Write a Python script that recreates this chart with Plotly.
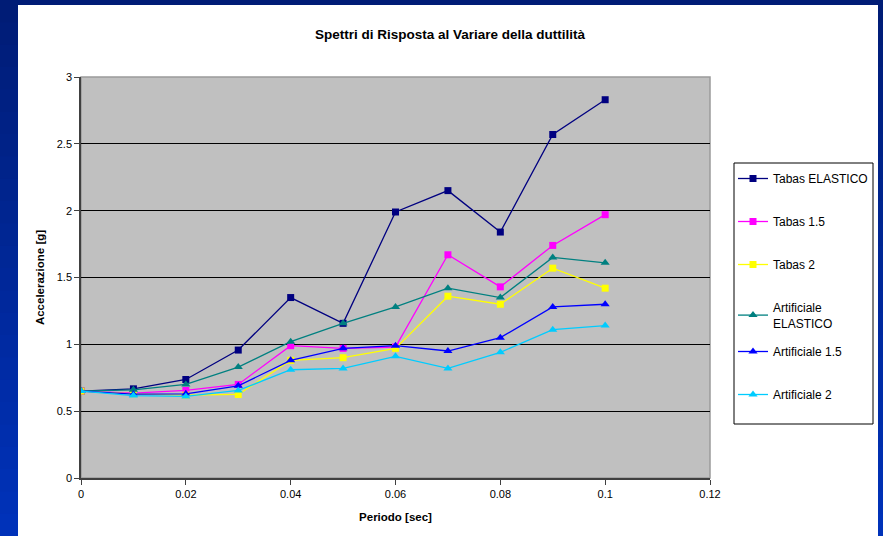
import plotly.graph_objects as go

periodo = [0, 0.01, 0.02, 0.03, 0.04, 0.05, 0.06, 0.07, 0.08, 0.09, 0.1]

tabas_elastico = [0.65, 0.667, 0.737, 0.957, 1.35, 1.157, 1.99, 2.15, 1.84, 2.57, 2.83]
tabas_15 = [0.65, 0.635, 0.655, 0.70, 0.99, 0.97, 0.98, 1.67, 1.43, 1.74, 1.97]
tabas_2 = [0.65, 0.63, 0.62, 0.625, 0.88, 0.90, 0.97, 1.36, 1.30, 1.57, 1.42]
art_elastico = [0.65, 0.66, 0.70, 0.83, 1.02, 1.157, 1.28, 1.42, 1.35, 1.65, 1.61]
art_15 = [0.65, 0.627, 0.63, 0.69, 0.88, 0.97, 0.99, 0.95, 1.05, 1.28, 1.30]
art_2 = [0.65, 0.617, 0.61, 0.655, 0.81, 0.82, 0.91, 0.82, 0.94, 1.11, 1.14]

series_names = ["Tabas ELASTICO", "Tabas 1.5", "Tabas 2",
                "Artificiale<br>ELASTICO", "Artificiale 1.5", "Artificiale 2"]
series_values = [tabas_elastico, tabas_15, tabas_2, art_elastico, art_15, art_2]
series_colors = ["#000080", "#FF00FF", "#FFFF00", "#008080", "#0000FF", "#00CCFF"]
series_symbols = ["square", "square", "square", "triangle-up", "triangle-up", "triangle-up"]
series_legend = ["legend", "legend", "legend", "legend", "legend2", "legend2"]

W, H = 883, 536
L, R, T, B = 81, 710, 77, 478  # plot area pixel box

def px(x):
    return (x - L) / (R - L)

def py(y):
    return (B - y) / (B - T)

fig = go.Figure()
for i, (name, vals, col, sym, lg) in enumerate(zip(series_names, series_values, series_colors,
                                                   series_symbols, series_legend)):
    fig.add_trace(go.Scatter(
        x=periodo, y=vals, name=name, mode="lines+markers",
        legendgroup=f"g{i}", legend=lg,
        line=dict(color=col, width=1.3),
        marker=dict(color=col, symbol=sym, size=7 if sym == "square" else 8),
    ))

shapes = []
# blue slide background: gradient bands on the side strips
n = 24
c0 = (0, 28, 118)
c1 = (0, 50, 185)
for k in range(n):
    t = k / (n - 1)
    col = "rgb(%d,%d,%d)" % tuple(int(round(a + (b - a) * t)) for a, b in zip(c0, c1))
    y_top = k * H / n
    y_bot = (k + 1) * H / n + 1
    shapes.append(dict(type="rect", xref="paper", yref="paper",
                       x0=px(-5), x1=px(18), y0=py(y_bot), y1=py(y_top),
                       fillcolor=col, line=dict(width=0), layer="below"))
    shapes.append(dict(type="rect", xref="paper", yref="paper",
                       x0=px(878), x1=px(890), y0=py(y_bot), y1=py(y_top),
                       fillcolor=col, line=dict(width=0), layer="below"))
shapes.append(dict(type="rect", xref="paper", yref="paper",
                   x0=px(-5), x1=px(890), y0=py(5), y1=py(-5),
                   fillcolor="rgb(0,28,118)", line=dict(width=0), layer="below"))
# plot area frame (gray top/right)
shapes.append(dict(type="rect", xref="paper", yref="paper", x0=0, x1=1, y0=0, y1=1,
                   line=dict(color="#9A9A9A", width=1.5), fillcolor="rgba(0,0,0,0)", layer="below"))
# legend box
shapes.append(dict(type="rect", xref="paper", yref="paper",
                   x0=px(734), x1=px(873), y0=py(424), y1=py(163),
                   line=dict(color="black", width=1), fillcolor="white", layer="below"))

legend_common = dict(xanchor="left", yanchor="top", bgcolor="rgba(0,0,0,0)",
                     borderwidth=0, font=dict(size=12), tracegroupgap=24, itemwidth=30)

fig.update_layout(
    width=W, height=H,
    margin=dict(l=L, r=W - R, t=T, b=H - B, autoexpand=False),
    paper_bgcolor="white",
    plot_bgcolor="#C0C0C0",
    font=dict(family="Liberation Sans, Arial, sans-serif", color="black", size=11),
    title=dict(text="<b>Spettri di Risposta al Variare della duttilità</b>",
               x=px(450), xref="paper", xanchor="center",
               y=1 - 34 / H, yanchor="middle", font=dict(size=13.5)),
    shapes=shapes,
    showlegend=True,
    legend=dict(x=px(733), y=py(164), **legend_common),
    legend2=dict(x=px(733), y=py(337), **legend_common),
)
fig.update_xaxes(range=[0, 0.12], dtick=0.02, tick0=0, showgrid=False, zeroline=False,
                 showline=True, linecolor="#404040", linewidth=1.5,
                 ticks="outside", ticklen=5, tickcolor="#404040",
                 tickfont=dict(size=11),
                 title=dict(text="<b>Periodo [sec]</b>", font=dict(size=11.5), standoff=14))
fig.update_yaxes(range=[0, 3], dtick=0.5, tick0=0, showgrid=True, gridcolor="black", gridwidth=1,
                 zeroline=False, showline=True, linecolor="#404040", linewidth=1.5,
                 ticks="outside", ticklen=5, tickcolor="#404040",
                 tickfont=dict(size=11),
                 title=dict(text="<b>Accelerazione [g]</b>", font=dict(size=11.5), standoff=10))

fig.write_html("out.html", config={"displayModeBar": False},
               post_script="document.body.style.margin='0';document.body.style.overflow='hidden';")
